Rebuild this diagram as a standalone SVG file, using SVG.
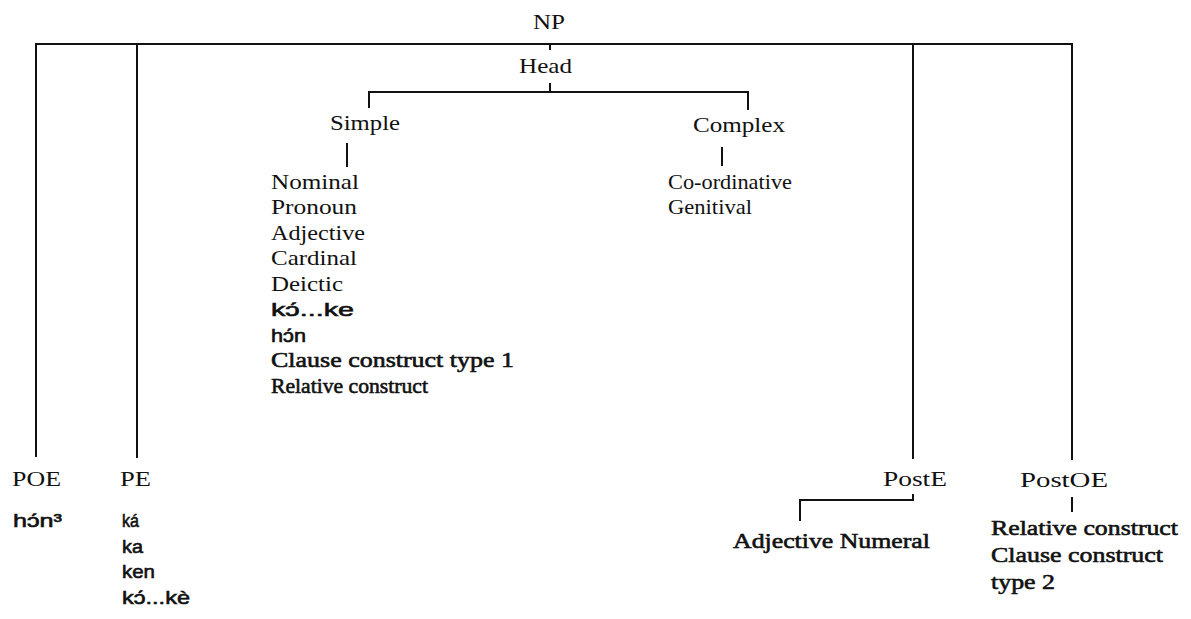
<svg xmlns="http://www.w3.org/2000/svg" width="1191" height="619" viewBox="0 0 1191 619">
<style>
.bg{fill:#fff}
.ln{stroke:#111;stroke-width:2;fill:none;stroke-linecap:square}
.s{font-family:"Liberation Serif","Times New Roman",serif;font-size:22px;fill:#111}
.sb{font-family:"Liberation Serif","Times New Roman",serif;font-size:22px;fill:#111;stroke:#111;stroke-width:0.6}
.ss{font-family:"Liberation Sans","DejaVu Sans",sans-serif;font-size:19px;fill:#111;stroke:#111;stroke-width:0.6}
</style>
<rect class="bg" x="0" y="0" width="1191" height="619"/>
<g id="connectors">
<path class="ln" d="M36,456 V44 H1072 V459"/>
<path class="ln" d="M137,44 V457"/>
<path class="ln" d="M913,44 V458"/>
<path class="ln" d="M550,44 V49"/>
<path class="ln" d="M550,84 V92"/>
<path class="ln" d="M369,107 V92 H748 V109"/>
<path class="ln" d="M347,144 V166"/>
<path class="ln" d="M722,148 V165"/>
<path class="ln" d="M913,495 V500 H800 V520"/>
<path class="ln" d="M1072,498 V511"/>
</g>
<g id="np"><text class="s" x="533" y="29" textLength="32" lengthAdjust="spacingAndGlyphs">NP</text></g>
<g id="head"><text class="s" x="519" y="73" textLength="53" lengthAdjust="spacingAndGlyphs">Head</text></g>
<g id="simple"><text class="s" x="330" y="130" textLength="70" lengthAdjust="spacingAndGlyphs">Simple</text></g>
<g id="complex"><text class="s" x="693" y="132" textLength="92" lengthAdjust="spacingAndGlyphs">Complex</text></g>
<g id="simple-list">
<text class="s" x="271" y="189" textLength="88" lengthAdjust="spacingAndGlyphs">Nominal</text>
<text class="s" x="271" y="214" textLength="86" lengthAdjust="spacingAndGlyphs">Pronoun</text>
<text class="s" x="271" y="240" textLength="94" lengthAdjust="spacingAndGlyphs">Adjective</text>
<text class="s" x="271" y="265" textLength="86" lengthAdjust="spacingAndGlyphs">Cardinal</text>
<text class="s" x="271" y="291" textLength="72" lengthAdjust="spacingAndGlyphs">Deictic</text>
<text class="ss" x="271" y="316" textLength="83" lengthAdjust="spacingAndGlyphs">kɔ́...ke</text>
<text class="ss" x="271" y="342" textLength="35" lengthAdjust="spacingAndGlyphs">hɔ́n</text>
<text class="sb" x="271" y="367" textLength="243" lengthAdjust="spacingAndGlyphs">Clause construct type 1</text>
<text class="sb" x="271" y="393" textLength="157" lengthAdjust="spacingAndGlyphs">Relative construct</text>
</g>
<g id="complex-list">
<text class="s" x="668" y="189" textLength="124" lengthAdjust="spacingAndGlyphs">Co-ordinative</text>
<text class="s" x="668" y="214" textLength="84" lengthAdjust="spacingAndGlyphs">Genitival</text>
</g>
<g id="poe">
<text class="s" x="12" y="486" textLength="49" lengthAdjust="spacingAndGlyphs">POE</text>
<text class="ss" x="13" y="527" textLength="49" lengthAdjust="spacingAndGlyphs">hɔ́n³</text>
</g>
<g id="pe">
<text class="s" x="120" y="486" textLength="31" lengthAdjust="spacingAndGlyphs">PE</text>
<text class="ss" x="122" y="527" textLength="17" lengthAdjust="spacingAndGlyphs">ká</text>
<text class="ss" x="122" y="553" textLength="21" lengthAdjust="spacingAndGlyphs">ka</text>
<text class="ss" x="122" y="578" textLength="33" lengthAdjust="spacingAndGlyphs">ken</text>
<text class="ss" x="122" y="604" textLength="68" lengthAdjust="spacingAndGlyphs">kɔ́...kè</text>
</g>
<g id="poste">
<text class="s" x="883" y="486" textLength="64" lengthAdjust="spacingAndGlyphs">PostE</text>
<text class="sb" x="733" y="548" textLength="197" lengthAdjust="spacingAndGlyphs">Adjective Numeral</text>
</g>
<g id="postoe">
<text class="s" x="1020" y="487" textLength="88" lengthAdjust="spacingAndGlyphs">PostOE</text>
<text class="sb" x="991" y="535" textLength="187" lengthAdjust="spacingAndGlyphs">Relative construct</text>
<text class="sb" x="991" y="562" textLength="172" lengthAdjust="spacingAndGlyphs">Clause construct</text>
<text class="sb" x="991" y="589" textLength="64" lengthAdjust="spacingAndGlyphs">type 2</text>
</g>
</svg>
